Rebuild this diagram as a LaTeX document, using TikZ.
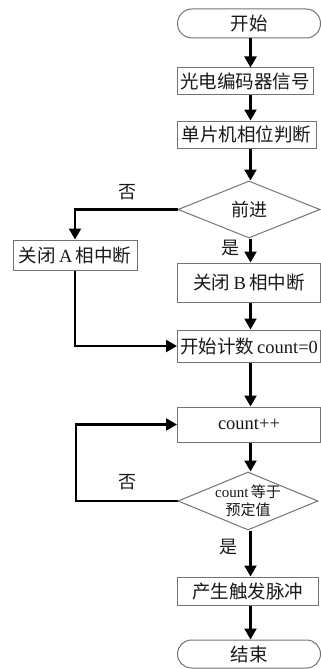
\documentclass[tikz,border=0pt]{standalone}
\usepackage{fontspec}
\setmainfont{Liberation Serif}
\newfontfamily\cjk{Noto Sans CJK SC}
\usetikzlibrary{arrows.meta,shapes.geometric,shapes.misc}
\begin{document}
\begin{tikzpicture}[x=1pt,y=-1pt,
  every node/.style={text=black!90},
  box/.style={draw=black!55,line width=1pt,inner sep=0pt,font=\fontsize{18.5}{21}\selectfont\cjk},
  term/.style={box,rounded rectangle},
  dia/.style={draw=black!55,line width=1pt,diamond,inner sep=0pt},
  lbl/.style={font=\fontsize{18}{20}\selectfont\cjk},
  arr/.style={line width=2.2pt,-{Triangle[width=12pt,length=11pt]}},
  ln/.style={line width=2.2pt}]
\useasboundingbox (0,0) rectangle (321,669);
\coordinate (ax) at (250.5,0);
\node[term,minimum width=143,minimum height=29] (start) at (249,23.5) {开始};
\node[box,minimum width=136,minimum height=26] (b2) at (245,81) {光电编码器信号};
\node[box,minimum width=139,minimum height=27] (b3) at (246.5,134.5) {单片机相位判断};
\node[dia,minimum width=142,minimum height=57,label={[lbl]center:前进}] (d1) at (249,209.5) {};
\node[box,minimum width=124,minimum height=30] (bA) at (75,255) {关闭\,{\rmfamily A}\,相中断};
\node[box,minimum width=143,minimum height=39] (bB) at (249,282.5) {关闭\,{\rmfamily B}\,相中断};
\node[box,minimum width=143,minimum height=32] (c0) at (249,346) {开始计数{\rmfamily\,count=0}};
\node[box,minimum width=143,minimum height=35] (cp) at (249,424.5) {\rmfamily count++};
\node[dia,minimum width=140,minimum height=58,label={[font=\fontsize{15}{18}\selectfont\cjk,align=center]center:{\rmfamily count}\,等于\\预定值}] (d2) at (248,501) {};
\node[box,minimum width=141,minimum height=28] (gen) at (247.5,591) {产生触发脉冲};
\node[term,minimum width=143,minimum height=28] (end) at (249,654) {结束};
\node[lbl] (no1) at (127,192) {否};
\node[lbl] (yes1) at (230,248) {是};
\node[lbl] (no2) at (127,482) {否};
\node[lbl] (yes2) at (228,547) {是};
\draw[arr] (start.south -| ax) -- (b2.north -| ax);
\draw[arr] (b2.south -| ax) -- (b3.north -| ax);
\draw[arr] (b3.south -| ax) -- (d1.north -| ax);
\draw[arr] (d1.south -| ax) -- (bB.north -| ax);
\draw[arr] (bB.south -| ax) -- (c0.north -| ax);
\draw[arr] (c0.south -| ax) -- (cp.north -| ax);
\draw[arr] (cp.south -| ax) -- (d2.north -| ax);
\draw[arr] (d2.south -| ax) -- (gen.north -| ax);
\draw[arr] (gen.south -| ax) -- (end.north -| ax);
\draw[arr] (d1.west) -| (bA.north);
\draw[arr] (bA.south) |- (c0.west);
\coordinate (lp) at (76,501);
\draw[arr] (d2.west) -- (lp) |- (cp.west);
\end{tikzpicture}
\end{document}
